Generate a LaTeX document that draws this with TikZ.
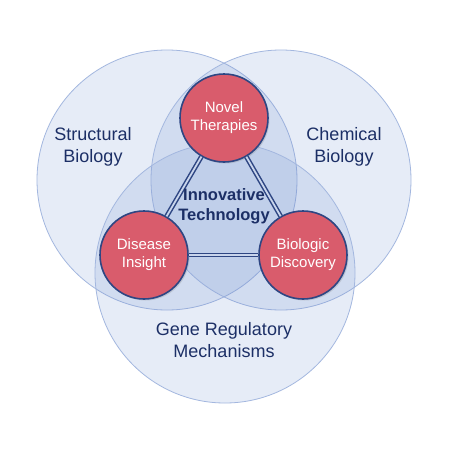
\documentclass[tikz,border=0pt]{standalone}
\usepackage{fontspec}
\setmainfont{Liberation Sans}
\usetikzlibrary{shadows}
\definecolor{vfill}{HTML}{6F8FD0}
\definecolor{vedge}{HTML}{A3B7DF}
\definecolor{navy}{HTML}{1C2F66}
\definecolor{redf}{HTML}{D95C6C}
\definecolor{redd}{HTML}{2E4683}
\definecolor{gapc}{HTML}{C9D5EC}
\tikzset{
  venn/.style={circle, minimum size=260pt, inner sep=0pt, fill=vfill, fill opacity=0.17, draw=vedge, draw opacity=1, line width=0.8pt},
  lab/.style={text=navy, font=\fontsize{18}{22}\selectfont, align=center},
  hub/.style={circle, minimum size=88pt, inner sep=0pt, fill=redf, draw=redd, line width=1.6pt, text=white, font=\fontsize{15}{18}\selectfont, align=center, drop shadow={opacity=0.25, shadow xshift=1.5pt, shadow yshift=-1.5pt}},
  link/.style={draw=redd, line width=1.5pt, double=gapc, double distance=1.8pt},
  core/.style={text=navy, font=\bfseries\fontsize{16.5}{20}\selectfont, align=center}
}
\begin{document}
\begin{tikzpicture}[x=1pt,y=-1pt]
\useasboundingbox[fill=white] (0,0) rectangle (450,450);
\node[venn] (cl) at (167,180) {};
\node[venn] (cr) at (281,180) {};
\node[venn] (cb) at (225,273) {};
\node[lab] (sb) at (93,147) {Structural\\Biology};
\node[lab] (chb) at (344,147) {Chemical\\Biology};
\node[lab] (grm) at (224,340) {Gene Regulatory\\Mechanisms};
\node[hub] (nt) at (224,118) {Novel\\Therapies};
\node[hub] (di) at (144,255) {Disease\\Insight};
\node[hub] (bd) at (303,255) {Biologic\\Discovery};
\draw[link] (nt) -- (di);
\draw[link] (nt) -- (bd);
\draw[link] (di) -- (bd);
\node[core] (it) at (224,206) {Innovative\\Technology};
\end{tikzpicture}
\end{document}
